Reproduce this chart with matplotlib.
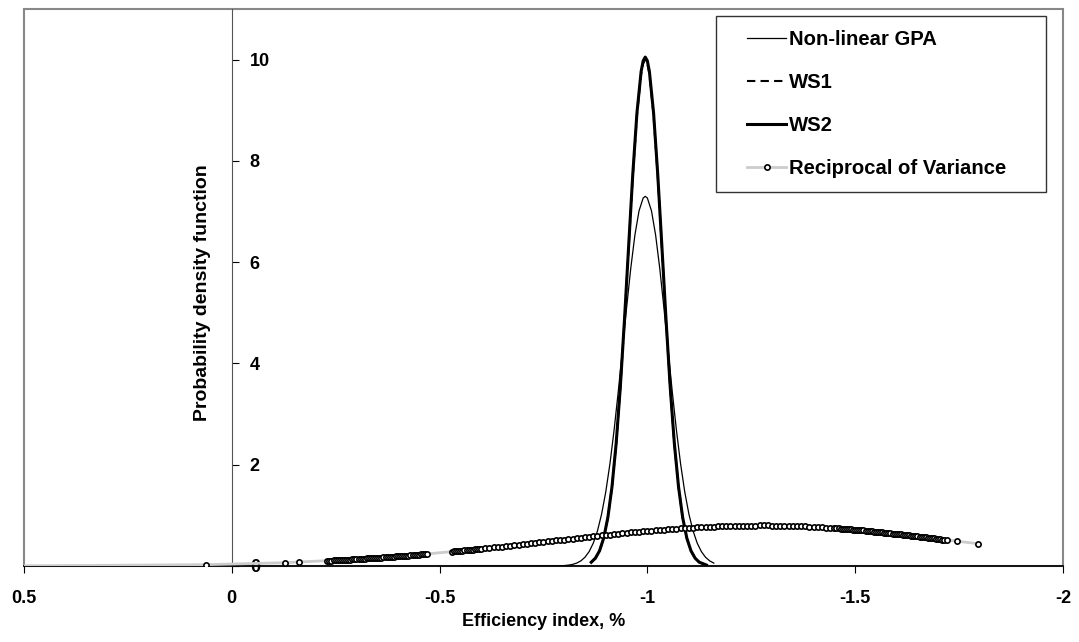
import matplotlib
matplotlib.use('Agg')
import matplotlib.pyplot as plt
from matplotlib.patches import Rectangle
from matplotlib.lines import Line2D
from matplotlib.legend_handler import HandlerLine2D
from matplotlib.ticker import FormatStrFormatter

# Non-linear GPA
gpa_x = [-0.55, -0.70, -0.78, -0.80, -0.81, -0.82, -0.83, -0.84, -0.85, -0.86, -0.87, -0.88, -0.89,
         -0.90, -0.91, -0.92, -0.93, -0.94, -0.95, -0.96, -0.97, -0.98, -0.99, -0.995,
         -1.00, -1.01, -1.02, -1.03, -1.04, -1.05, -1.06, -1.07, -1.08, -1.09, -1.10,
         -1.11, -1.12, -1.13, -1.14, -1.15, -1.16]
gpa_y = [0.0, 0.0, 0.002, 0.008, 0.017, 0.031, 0.057, 0.101, 0.173, 0.285, 0.452, 0.693, 1.026,
         1.465, 2.018, 2.683, 3.441, 4.262, 5.090, 5.870, 6.531, 7.013, 7.268, 7.300,
         7.268, 7.013, 6.531, 5.870, 5.090, 4.262, 3.441, 2.683, 2.018, 1.465, 1.026,
         0.693, 0.452, 0.285, 0.173, 0.101, 0.057]

# WS1
ws1_x = [-0.865, -0.875, -0.885, -0.895, -0.905, -0.915, -0.925, -0.935, -0.945, -0.955,
         -0.965, -0.975, -0.985, -0.99, -0.995, -1.00, -1.005, -1.015, -1.025, -1.035,
         -1.045, -1.055, -1.065, -1.075, -1.085, -1.095, -1.105, -1.115, -1.125, -1.142]
ws1_y = [0.074, 0.153, 0.299, 0.548, 0.952, 1.560, 2.411, 3.517, 4.839, 6.284,
         7.701, 8.903, 9.714, 9.927, 10.0, 9.927, 9.714, 8.903, 7.701, 6.284,
         4.839, 3.517, 2.411, 1.560, 0.952, 0.548, 0.299, 0.153, 0.074, 0.019]

# WS2
ws2_x = [-0.865, -0.875, -0.885, -0.895, -0.905, -0.915, -0.925, -0.935, -0.945, -0.955,
         -0.965, -0.975, -0.985, -0.99, -0.995, -1.00, -1.005, -1.015, -1.025, -1.035,
         -1.045, -1.055, -1.065, -1.075, -1.085, -1.095, -1.105, -1.115, -1.125, -1.142]
ws2_y = [0.074, 0.154, 0.300, 0.551, 0.957, 1.568, 2.423, 3.535, 4.863, 6.316,
         7.740, 8.948, 9.763, 9.977, 10.05, 9.977, 9.763, 8.948, 7.740, 6.316,
         4.863, 3.535, 2.423, 1.568, 0.957, 0.551, 0.300, 0.154, 0.074, 0.019]

# Reciprocal of Variance
rov_x = [0.55, 0.063, -0.129, -0.162,
         -0.23, -0.235, -0.24, -0.245, -0.25, -0.255, -0.26, -0.265, -0.27, -0.275,
         -0.28, -0.285, -0.29, -0.295, -0.30, -0.305, -0.31, -0.315, -0.32, -0.325,
         -0.33, -0.335, -0.34, -0.345, -0.35, -0.355, -0.36, -0.365, -0.37, -0.375,
         -0.38, -0.385, -0.39, -0.395, -0.40, -0.405, -0.41, -0.415, -0.42, -0.425,
         -0.43, -0.435, -0.44, -0.445, -0.45, -0.455, -0.46, -0.465, -0.47,
         -0.53, -0.535, -0.54, -0.545, -0.55, -0.555, -0.56, -0.565, -0.57, -0.575,
         -0.58, -0.585, -0.59, -0.595, -0.60,
         -0.61, -0.62, -0.63, -0.64, -0.65, -0.66, -0.67, -0.68, -0.69,
         -0.70, -0.71, -0.72, -0.73, -0.74, -0.75, -0.76, -0.77, -0.78, -0.79,
         -0.80, -0.81, -0.82, -0.83, -0.84, -0.85, -0.86, -0.87, -0.88, -0.89,
         -0.90, -0.91, -0.92, -0.93, -0.94, -0.95, -0.96, -0.97, -0.98, -0.99,
         -1.00, -1.01, -1.02, -1.03, -1.04, -1.05, -1.06, -1.07, -1.08, -1.09,
         -1.10, -1.11, -1.12, -1.13, -1.14, -1.15, -1.16, -1.17, -1.18, -1.19,
         -1.20, -1.21, -1.22, -1.23, -1.24, -1.25, -1.26, -1.27, -1.28,
         -1.29, -1.30, -1.31, -1.32, -1.33, -1.34, -1.35, -1.36, -1.37, -1.38,
         -1.39, -1.40, -1.41, -1.42, -1.43, -1.44,
         -1.45, -1.455, -1.46, -1.465, -1.47, -1.475, -1.48, -1.485, -1.49, -1.495,
         -1.50, -1.505, -1.51, -1.515, -1.52, -1.525, -1.53, -1.535, -1.54, -1.545,
         -1.55, -1.555, -1.56, -1.565, -1.57, -1.575, -1.58, -1.585, -1.59, -1.595,
         -1.60, -1.605, -1.61, -1.615, -1.62, -1.625, -1.63, -1.635, -1.64, -1.645,
         -1.65, -1.655, -1.66, -1.665, -1.67, -1.675, -1.68, -1.685, -1.69, -1.695,
         -1.70, -1.705, -1.71, -1.715, -1.72,
         -1.745, -1.796]
rov_y = [0.001, 0.026, 0.065, 0.079,
         0.104, 0.106, 0.108, 0.110, 0.112, 0.115, 0.117, 0.119, 0.121, 0.124,
         0.126, 0.128, 0.131, 0.133, 0.135, 0.138, 0.140, 0.143, 0.146, 0.148,
         0.151, 0.153, 0.156, 0.159, 0.162, 0.164, 0.167, 0.170, 0.173, 0.176,
         0.179, 0.182, 0.185, 0.188, 0.191, 0.194, 0.197, 0.201, 0.204, 0.207,
         0.210, 0.214, 0.217, 0.220, 0.224, 0.227, 0.231, 0.234, 0.238,
         0.283, 0.287, 0.291, 0.295, 0.299, 0.303, 0.307, 0.311, 0.315, 0.319,
         0.323, 0.328, 0.332, 0.336, 0.340,
         0.349, 0.358, 0.366, 0.375, 0.384, 0.393, 0.402, 0.411, 0.420,
         0.430, 0.439, 0.448, 0.457, 0.467, 0.476, 0.485, 0.495, 0.504, 0.513,
         0.522, 0.532, 0.541, 0.550, 0.559, 0.568, 0.577, 0.586, 0.595, 0.604,
         0.613, 0.621, 0.630, 0.638, 0.646, 0.654, 0.662, 0.670, 0.677, 0.685,
         0.692, 0.699, 0.706, 0.713, 0.719, 0.725, 0.732, 0.737, 0.743, 0.748,
         0.754, 0.758, 0.763, 0.767, 0.772, 0.775, 0.779, 0.782, 0.785, 0.788,
         0.791, 0.793, 0.795, 0.796, 0.798, 0.799, 0.799, 0.800, 0.800,
         0.800, 0.799, 0.798, 0.797, 0.795, 0.793, 0.791, 0.788, 0.785, 0.782,
         0.778, 0.774, 0.770, 0.765, 0.760, 0.754,
         0.749, 0.746, 0.743, 0.739, 0.736, 0.733, 0.730, 0.726, 0.723, 0.719,
         0.716, 0.712, 0.708, 0.705, 0.701, 0.697, 0.693, 0.689, 0.685, 0.681,
         0.677, 0.672, 0.668, 0.664, 0.659, 0.655, 0.650, 0.646, 0.641, 0.637,
         0.632, 0.627, 0.623, 0.618, 0.613, 0.608, 0.604, 0.599, 0.594, 0.589,
         0.584, 0.579, 0.574, 0.569, 0.564, 0.559, 0.554, 0.549, 0.543, 0.538,
         0.533, 0.528, 0.523, 0.518, 0.512,
         0.490, 0.440]

x_ticks = [0.5, 0, -0.5, -1, -1.5, -2]
y_ticks = [0, 2, 4, 6, 8, 10]

plt.rcParams['font.family'] = ['Liberation Sans', 'DejaVu Sans']
plt.rcParams['font.weight'] = 'bold'
plt.rcParams['axes.unicode_minus'] = False

fig = plt.figure(figsize=(10.79, 6.42), dpi=100)
ax = fig.add_axes([0.0222, 0.1184, 0.9629, 0.8676])

ax.plot(gpa_x, gpa_y, color='black', lw=0.9, label='Non-linear GPA')
ax.plot(ws1_x, ws1_y, color='black', lw=1.5, ls=(0, (4, 2.5)), label='WS1')
ax.plot(ws2_x, ws2_y, color='black', lw=2.2, label='WS2')
ax.plot(rov_x, rov_y, color='#cccccc', lw=2, marker='o', ms=3.8, mfc='white',
        mec='black', mew=1.2, label='Reciprocal of Variance', zorder=3)

ax.set_xlim(0.5, -2)
ax.set_ylim(0, 11)

# frame of plot area
ax.add_patch(Rectangle((0, 0), 1, 1, transform=ax.transAxes, fill=False,
                       ec='#888888', lw=1.5, clip_on=False, zorder=0.5))
ax.spines['left'].set_visible(False)
ax.spines['top'].set_visible(False)
ax.spines['right'].set_position(('data', 0))
ax.spines['right'].set_color('#555555')
ax.spines['bottom'].set_color('black')
ax.spines['bottom'].set_linewidth(1.2)

ax.yaxis.tick_right()
ax.set_xticks(x_ticks)
ax.set_yticks(y_ticks)
ax.xaxis.set_major_formatter(FormatStrFormatter('%g'))
ax.tick_params(axis='y', direction='out', length=5, pad=8, labelsize=13, colors='black')
ax.tick_params(axis='x', direction='out', length=5, pad=12, labelsize=13)

ax.set_ylabel('Probability density function', fontsize=14, fontweight='bold')
ax.yaxis.set_label_coords(0.18, 0.49)
ax.set_xlabel('Efficiency index, %', fontsize=13, fontweight='bold')
ax.xaxis.set_label_coords(0.5, -0.085)

# legend box stretched to the width used in the original, entries left aligned
leg = ax.legend(loc='upper left', bbox_to_anchor=(0.666, 0.5, 0.3176, 0.487), mode='expand',
                borderaxespad=0, fontsize=14.6, frameon=True, fancybox=False,
                edgecolor='black', labelspacing=1.17, handlelength=2.78,
                handletextpad=0.1, borderpad=0.7,
                handler_map={Line2D: HandlerLine2D(xpad=0.81, numpoints=1)})
leg.get_frame().set_linewidth(1.0)

fig.savefig('out.png', dpi=100)
